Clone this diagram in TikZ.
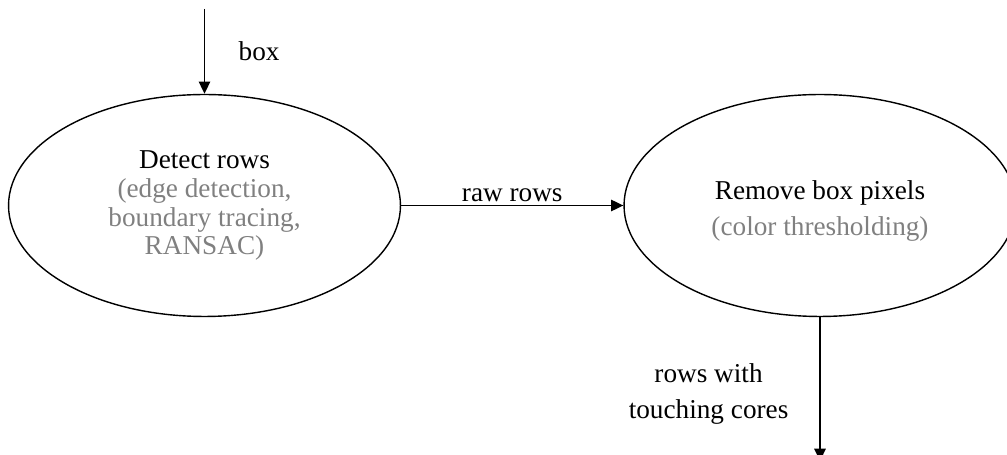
\documentclass[tikz,border=0pt]{standalone}
\usepackage{fontspec}
\setmainfont{Liberation Serif}
\usetikzlibrary{shapes.geometric, arrows.meta}

\definecolor{method}{RGB}{128,128,128}

\begin{document}
\begin{tikzpicture}[x=0.02cm, y=-0.02cm, >={Triangle[length=7pt,width=6.5pt]},
	stage/.style={ellipse, draw, line width=0.8pt, minimum width=7.84cm, minimum height=4.44cm, align=center, font=\fontsize{15.5}{16.5}\selectfont},
	flow/.style={line width=0.9pt, ->},
	label/.style={font=\fontsize{15.5}{20.5}\selectfont, align=center}]

	% window of the picture (the right ellipse runs past its edge)
	\clip (0,0) rectangle (1007,455);

	% the two stages
	\node[stage] (detect) at (204.5,205.5) {Detect rows\\{\color{method}(edge detection,}\\{\color{method}boundary tracing,}\\{\color{method}RANSAC)}};
	\node[stage] (remove) at (820,205.5) {\rule{0pt}{17pt}Remove box pixels\\[4.5pt]{\color{method}(color thresholding)}};

	% free ends of the input and output arrows
	\coordinate (in) at (detect.north |- 0,9);
	\coordinate (out) at (remove.south |- 0,461);

	\draw[flow] (in) -- (detect.north) node[midway, right=0.55cm, label] {box};
	\draw[flow] (detect.east) -- (remove.west) node[midway, above=-1.5pt, label] {raw rows};
	\draw[flow] (remove.south) -- (out) node[midway, left=0.5cm, yshift=-3pt, label] {rows with\\touching cores};

\end{tikzpicture}
\end{document}
